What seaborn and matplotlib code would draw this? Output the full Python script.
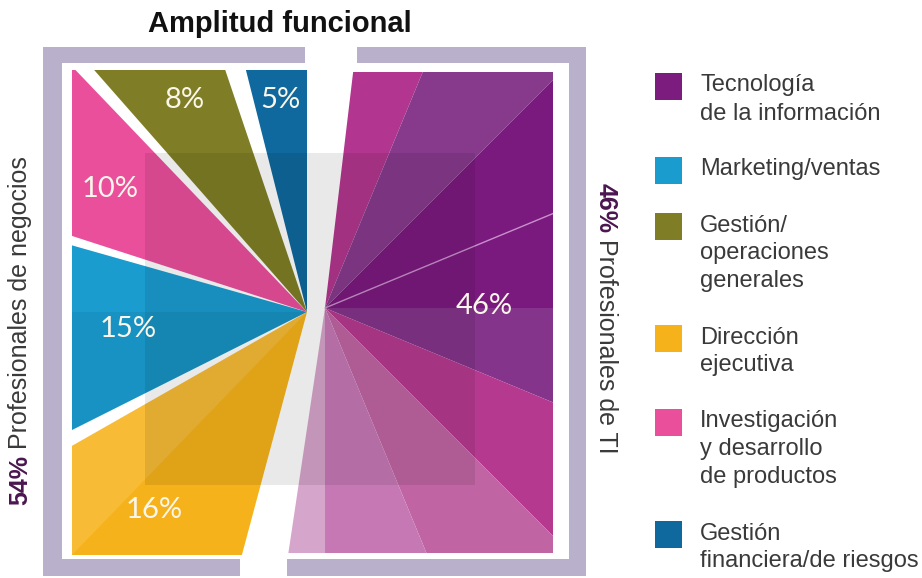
import matplotlib
matplotlib.use("Agg")
import numpy as np
import seaborn as sns
import matplotlib.pyplot as plt
from matplotlib.patches import Polygon, Rectangle
from matplotlib.transforms import IdentityTransform

sns.set_theme(style="white")
plt.rcParams["font.family"] = ["Liberation Sans", "DejaVu Sans"]

# ---------------- data ----------------
title = "Amplitud funcional"
business_labels = ["Gestión financiera/de riesgos", "Gestión/operaciones generales",
                   "Investigación y desarrollo de productos", "Marketing/ventas",
                   "Dirección ejecutiva"]
business_values = [5, 8, 10, 15, 16]
it_label = "Tecnología de la información"
it_value = 46
group_names = ["Profesionales de negocios", "Profesionales de TI"]
group_values = [54, 46]

legend_keys = ["Tecnología de la información", "Marketing/ventas",
               "Gestión/operaciones generales", "Dirección ejecutiva",
               "Investigación y desarrollo de productos", "Gestión financiera/de riesgos"]
legend_texts = ["Tecnología\nde la información", "Marketing/ventas",
                "Gestión/\noperaciones\ngenerales", "Dirección\nejecutiva",
                "Investigación\ny desarrollo\nde productos", "Gestión\nfinanciera/de riesgos"]

palette = {
    "Tecnología de la información": "#7b1c7e",
    "Marketing/ventas": "#1a9ccf",
    "Gestión/operaciones generales": "#7f7e26",
    "Dirección ejecutiva": "#f6b21a",
    "Investigación y desarrollo de productos": "#ea4f9c",
    "Gestión financiera/de riesgos": "#0f689e",
}
# shades of the IT fan, band by band from top to bottom
it_shades = ["#b2368f", "#873a8b", "#7b1a7e", "#7b1a7e", "#84348a",
             "#b5398f", "#c064a3", "#c678b5", "#d6a5cb"]

FRAME = "#b9b1cc"
TEXT = "#3a3a3a"
ACCENT = "#4b1650"
PCT = "#fbf6ea"

# ---------------- canvas ----------------
W, H = 922, 578
fig = plt.figure(figsize=(W / 100, H / 100), dpi=100)
ax = fig.add_axes([0, 0, 1, 1])
ax.set_xlim(0, W)
ax.set_ylim(H, 0)
ax.axis("off")


def sector(cx, cy, a0, a1, R=900, n=90):
    t = np.radians(np.linspace(a0, a1, n))
    pts = np.column_stack([cx + R * np.cos(t), cy - R * np.sin(t)])
    return np.vstack([[cx, cy], pts])


def draw_sector(cx, cy, a0, a1, color, clip, z=2, alpha=1.0):
    p = Polygon(sector(cx, cy, a0, a1), closed=True, facecolor=color,
                edgecolor="none", zorder=z, alpha=alpha)
    ax.add_patch(p)
    p.set_clip_path(clip)
    return p


# frames around both panels
for (x0, y0, w, h) in [(43, 47, 262, 16), (43, 47, 19, 529), (43, 559, 197, 17),
                       (357, 47, 229, 16), (569, 47, 17, 529), (287, 559, 299, 17)]:
    ax.add_patch(Rectangle((x0, y0), w, h, facecolor=FRAME, edgecolor="none", zorder=1))

# ---------------- business fan (left) ----------------
lc = (307, 312)
l_start, l_end = 90.0, 255.0
l_gaps = [4.5, 2.4, 2.1, 3.0]
deg_per_pct = (l_end - l_start - sum(l_gaps)) / sum(business_values)
left_clip = Rectangle((72, 70), 235, 485, transform=ax.transData)

label_radius = [214, 245, 232, 180, 250]
a = l_start
for i, (lab, v) in enumerate(zip(business_labels, business_values)):
    a0, a1 = a, a + v * deg_per_pct
    draw_sector(*lc, a0, a1, palette[lab], left_clip)
    if lab == "Marketing/ventas" and a0 < 180 < a1:
        draw_sector(*lc, 180, a1, "black", left_clip, z=2.1, alpha=0.06)
    if lab == "Dirección ejecutiva":
        corner = np.degrees(np.arctan2(-(555 - lc[1]), 72 - lc[0])) % 360
        draw_sector(*lc, a0, corner, "white", left_clip, z=2.1, alpha=0.12)
    mid = np.radians((a0 + a1) / 2)
    r = label_radius[i]
    ax.text(lc[0] + r * np.cos(mid), lc[1] - r * np.sin(mid), f"{v}%",
            ha="center", va="center", fontsize=21, color=PCT,
            family=["Lato", "DejaVu Sans"], fontweight="normal", zorder=6)
    a = a1 + (l_gaps[i] if i < len(l_gaps) else 0)

# ---------------- IT fan (right) ----------------
rc = (325, 308)
r_start, r_end = 83.2, -98.5
right_clip = Rectangle((280, 72), 273, 481, transform=ax.transData)
bounds = [r_start] + [b for b in np.arange(67.5, -100, -22.5) if r_end < b < r_start] + [r_end]
for shade, b0, b1 in zip(it_shades, bounds[:-1], bounds[1:]):
    draw_sector(*rc, b1, b0, shade, right_clip)
t = np.radians(22.5)
ln, = ax.plot([rc[0], rc[0] + 900 * np.cos(t)], [rc[1], rc[1] - 900 * np.sin(t)],
              color="#c98fcb", lw=1.0, zorder=2.5)
ln.set_clip_path(right_clip)
ax.text(rc[0] + 159, rc[1] - 2, f"{it_value}%", ha="center", va="center", fontsize=21,
        color=PCT, family=["Lato", "DejaVu Sans"], fontweight="normal", zorder=6)

# translucent square behind the centre
ax.add_patch(Rectangle((145, 153), 330, 332, facecolor="black", edgecolor="none",
                       alpha=0.085, zorder=3))

# ---------------- title ----------------
ax.text(280, 24, title, ha="center", va="center", fontsize=21, fontweight="bold",
        color="#111111", zorder=6)

# ---------------- legend ----------------
pitch, gap, top = 28, 28, 73
for key, txt in zip(legend_keys, legend_texts):
    ax.add_patch(Rectangle((655, top), 27, 27, facecolor=palette[key], edgecolor="none", zorder=5))
    lines = txt.split("\n")
    for j, line in enumerate(lines):
        ax.text(700, top + 12.5 + j * pitch, line, ha="left", va="center",
                fontsize=17, color=TEXT, zorder=6)
    top += len(lines) * pitch + gap

# ---------------- side labels ----------------
fig.canvas.draw()
renderer = fig.canvas.get_renderer()

t1 = ax.text(20, 505, f"{group_values[0]}%", rotation=90, ha="center", va="bottom",
             fontsize=18, fontweight="bold", color=ACCENT, zorder=6)
bb = t1.get_window_extent(renderer)
ax.text((bb.x0 + bb.x1) / 2, bb.y1 + 6, group_names[0], rotation=90, ha="center",
        va="bottom", fontsize=18, color=TEXT, transform=IdentityTransform(), zorder=6)

t2 = ax.text(606, 183, f"{group_values[1]}%", rotation=-90, ha="center", va="top",
             fontsize=18, fontweight="bold", color=ACCENT, zorder=6)
bb = t2.get_window_extent(renderer)
ax.text((bb.x0 + bb.x1) / 2, bb.y0 - 6, group_names[1], rotation=-90, ha="center",
        va="top", fontsize=18, color=TEXT, transform=IdentityTransform(), zorder=6)

fig.savefig("out.png", dpi=100, facecolor="white")
